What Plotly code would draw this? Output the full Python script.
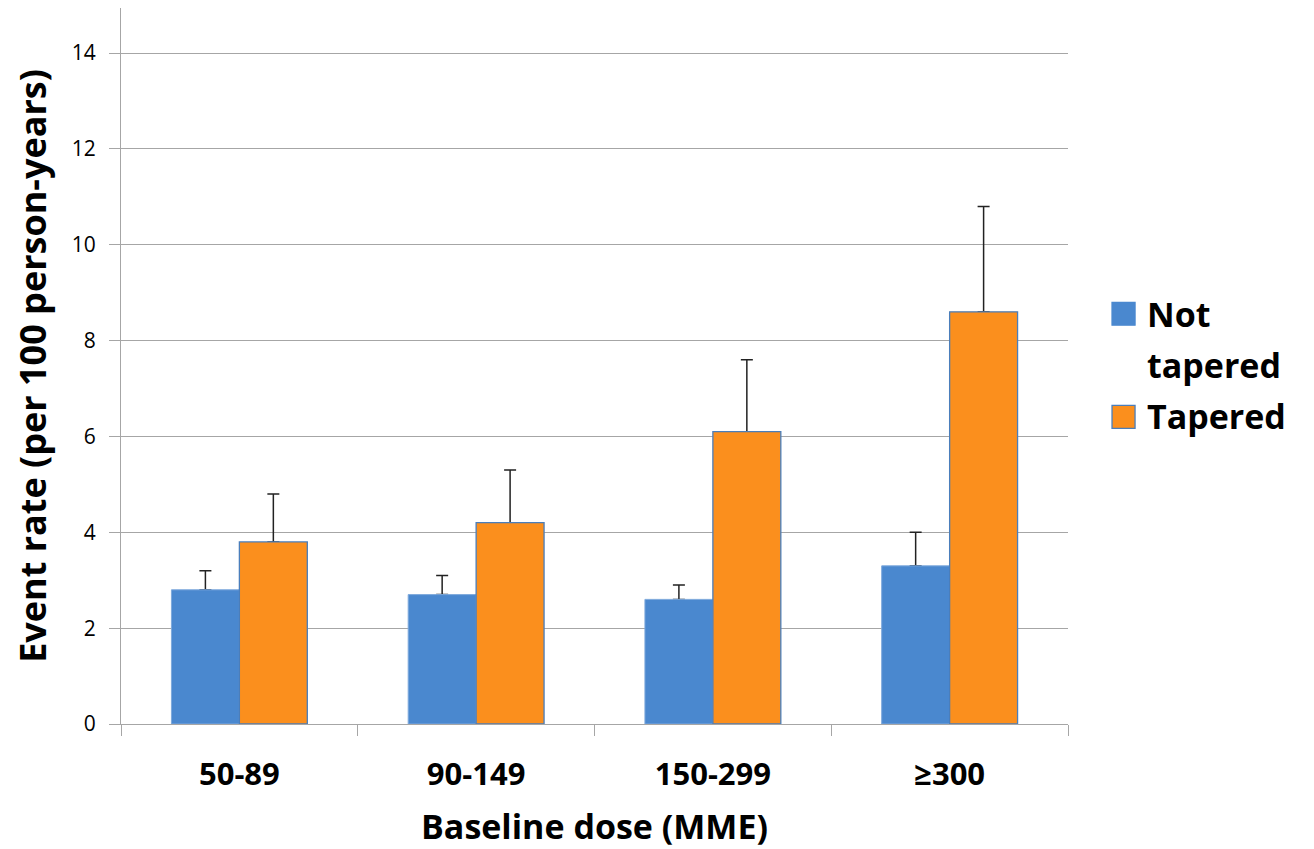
import plotly.graph_objects as go

categories = ["50-89", "90-149", "150-299", "≥300"]
not_tapered = [2.8, 2.7, 2.6, 3.3]
not_tapered_upper = [3.2, 3.1, 2.9, 4.0]
tapered = [3.8, 4.2, 6.1, 8.6]
tapered_upper = [4.8, 5.3, 7.6, 10.8]
series_names = ["Not tapered", "Tapered"]
legend_lines = [["Not", "tapered"], ["Tapered"]]
y_ticks = [0, 2, 4, 6, 8, 10, 12, 14]

BLUE = "#4a88cf"
BLUE_EDGE = "#7ea9dc"
ORANGE = "#fb8f1d"
ORANGE_EDGE = "#4a7ebb"
FONT = "Open Sans"

fig = go.Figure()

# error bars on transparent bars (drawn first so visible bars cover the lower cap)
for vals, upper, og in [(not_tapered, not_tapered_upper, "a"), (tapered, tapered_upper, "b")]:
    fig.add_trace(go.Bar(
        x=categories, y=vals, offsetgroup=og, showlegend=False, hoverinfo="skip",
        marker=dict(color="rgba(0,0,0,0)", line=dict(width=0)),
        error_y=dict(type="data", symmetric=False,
                     array=[u - v for u, v in zip(upper, vals)],
                     arrayminus=[0] * len(vals),
                     color="#222222", thickness=1.5, width=6),
    ))

fig.add_trace(go.Bar(
    x=categories, y=not_tapered, offsetgroup="a", name=series_names[0], showlegend=False,
    marker=dict(color=BLUE, line=dict(color=BLUE_EDGE, width=1)),
))
fig.add_trace(go.Bar(
    x=categories, y=tapered, offsetgroup="b", name=series_names[1], showlegend=False,
    marker=dict(color=ORANGE, line=dict(color=ORANGE_EDGE, width=1.3)),
))

# legend drawn as squares + text (larger swatches than the built-in legend)
legend_x0, legend_x1, text_x = 1.0465, 1.0708, 1.0815
swatches = [
    dict(y0=0.557, y1=0.589, fill=BLUE, edge=BLUE, text_y=[0.5726, 0.5015]),
    dict(y0=0.413, y1=0.445, fill=ORANGE, edge=ORANGE_EDGE, text_y=[0.4302]),
]
for sw, lines in zip(swatches, legend_lines):
    fig.add_shape(type="rect", xref="paper", yref="paper",
                  x0=legend_x0, x1=legend_x1, y0=sw["y0"], y1=sw["y1"],
                  fillcolor=sw["fill"], line=dict(color=sw["edge"], width=1.3))
    for line, ty in zip(lines, sw["text_y"]):
        fig.add_annotation(xref="paper", yref="paper", x=text_x, y=ty,
                           xanchor="left", yanchor="middle", showarrow=False,
                           text=f"<b>{line}</b>",
                           font=dict(size=34, family=FONT, color="black"))

fig.update_layout(
    width=1306, height=841,
    margin=dict(l=113, r=246, t=0, b=125),
    plot_bgcolor="white", paper_bgcolor="white",
    barmode="group", bargap=0.426, bargroupgap=0,
    font=dict(family=FONT, color="black"),
    showlegend=False,
    yaxis=dict(
        range=[0, 14.94], tickvals=y_ticks, showgrid=True, gridcolor="#a6a6a6", gridwidth=1,
        showline=True, linecolor="#a6a6a6", linewidth=1, automargin=False,
        ticks="outside", ticklen=11, tickcolor="#a6a6a6", ticklabelstandoff=9,
        tickfont=dict(size=21, family=FONT, color="black"),
        zeroline=False,
        title=dict(text="<b>Event rate (per 100 person-years)</b>",
                   font=dict(size=36, family=FONT, color="black"), standoff=14),
    ),
    xaxis=dict(
        showline=True, linecolor="#a6a6a6", linewidth=1, automargin=False,
        ticks="outside", ticklen=11, tickcolor="#a6a6a6", tickson="boundaries",
        ticklabelstandoff=23,
        tickfont=dict(size=31, family=FONT, color="black", weight="bold"),
        title=dict(text="<b>Baseline dose (MME)</b>",
                   font=dict(size=34, family=FONT, color="black"), standoff=22),
    ),
)

fig.write_html("out.html")
